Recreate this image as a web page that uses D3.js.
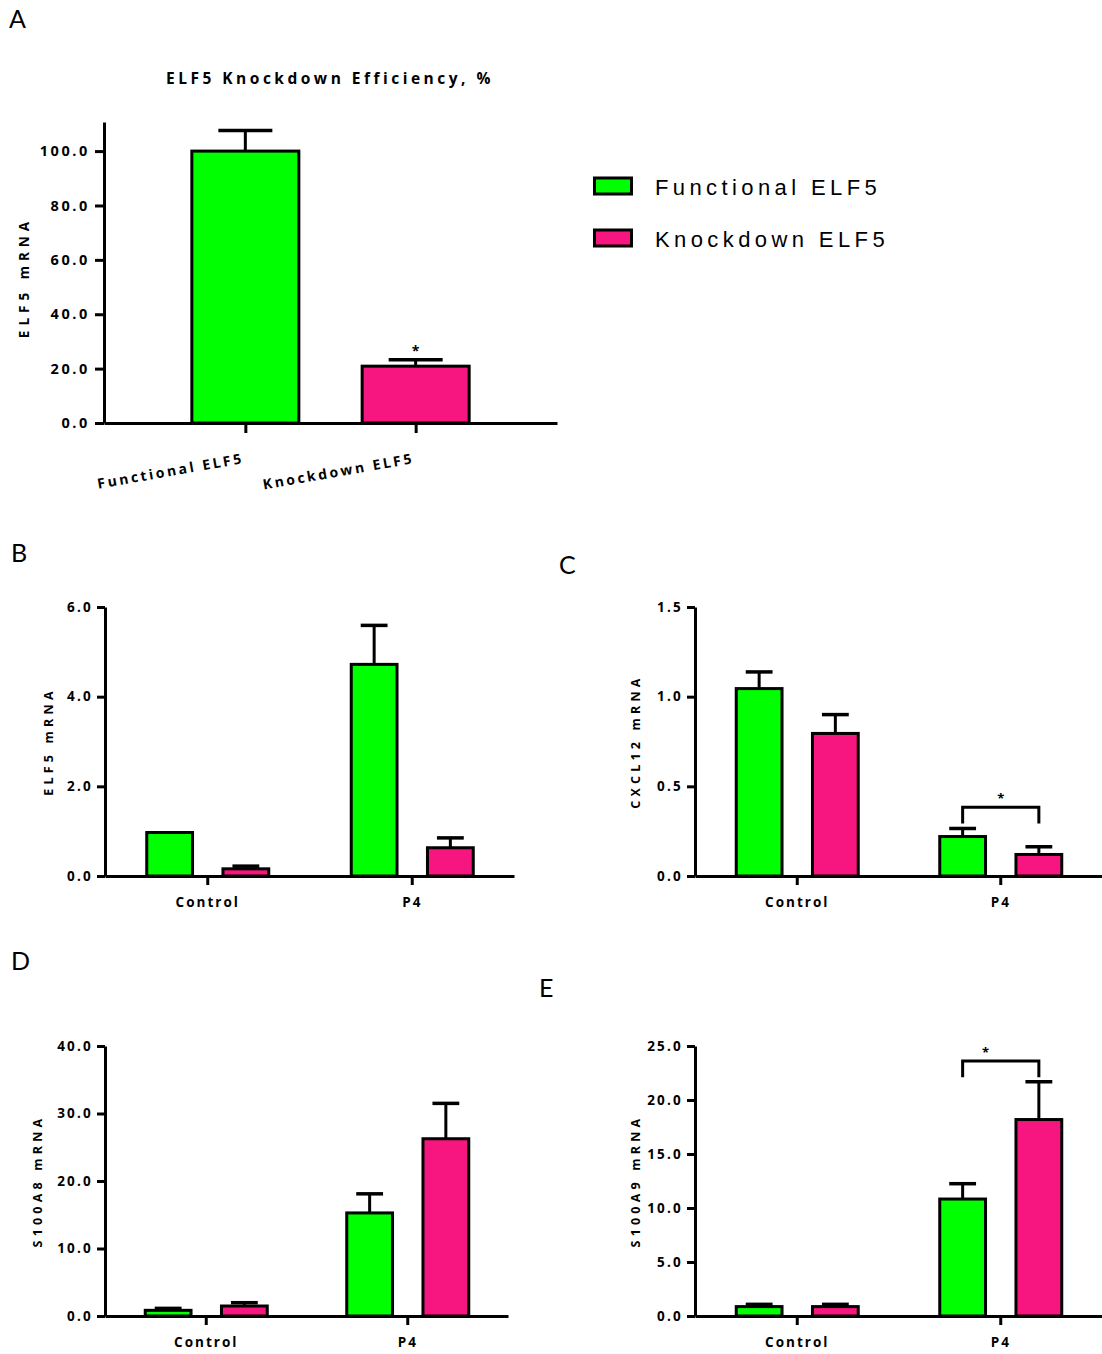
<!DOCTYPE html>
<html>
<head>
<meta charset="utf-8">
<script src="https://cdn.jsdelivr.net/npm/d3@7"></script>
<style>
  body { margin: 0; background: #fff; }
  text { font-family: "Open Sans", sans-serif; fill: #000; }
  .tick text { font-weight: 700; }
</style>
</head>
<body>
<svg id="fig" width="1102" height="1354"></svg>
<script>
// ---- data ----
const seriesNames = ["Functional ELF5", "Knockdown ELF5"];
const groups = ["Control", "P4"];

// A: knockdown efficiency (%)
const effCategories = ["Functional ELF5", "Knockdown ELF5"];
const effMean = [100, 20.9];
const effSem = [7.6, 2.4];
const effTicks = [0, 20, 40, 60, 80, 100];

// B: ELF5 mRNA
const elf5Functional = [0.97, 4.72];
const elf5FunctionalSem = [0, 0.87];
const elf5Knockdown = [0.16, 0.63];
const elf5KnockdownSem = [0.06, 0.22];
const elf5Ticks = [0, 2, 4, 6];

// C: CXCL12 mRNA
const cxcl12Functional = [1.045, 0.22];
const cxcl12FunctionalSem = [0.093, 0.045];
const cxcl12Knockdown = [0.795, 0.12];
const cxcl12KnockdownSem = [0.105, 0.043];
const cxcl12Ticks = [0, 0.5, 1.0, 1.5];

// D: S100A8 mRNA
const s100a8Functional = [0.84, 15.27];
const s100a8FunctionalSem = [0.29, 2.83];
const s100a8Knockdown = [1.48, 26.26];
const s100a8KnockdownSem = [0.49, 5.24];
const s100a8Ticks = [0, 10, 20, 30, 40];

// E: S100A9 mRNA
const s100a9Functional = [0.87, 10.83];
const s100a9FunctionalSem = [0.21, 1.42];
const s100a9Knockdown = [0.87, 18.19];
const s100a9KnockdownSem = [0.21, 3.5];
const s100a9Ticks = [0, 5, 10, 15, 20, 25];

const GREEN = "#00ff00";
const PINK = "#f7157f";
const seriesColor = d3.scaleOrdinal().domain(seriesNames).range([GREEN, PINK]);

const svg = d3.select("#fig");
const fmt = d3.format(".1f");

function panelLetter(letter, x, y) {
  svg.append("text")
    .attr("x", x).attr("y", y)
    .style("font-family", "Lato, sans-serif")
    .style("font-size", "25px")
    .text(letter);
}

function styleAxis(g, fontSize, spacing) {
  g.select(".domain").attr("stroke-width", 3);
  g.selectAll(".tick line").attr("stroke-width", 3);
  g.selectAll(".tick text")
    .style("font-size", fontSize + "px")
    .style("letter-spacing", spacing + "px");
}

function errorBar(g, cx, yBase, yTop, capW) {
  g.append("line")
    .attr("x1", cx).attr("x2", cx)
    .attr("y1", yBase).attr("y2", yTop)
    .attr("stroke", "#000").attr("stroke-width", 3);
  g.append("line")
    .attr("x1", cx - capW / 2).attr("x2", cx + capW / 2)
    .attr("y1", yTop).attr("y2", yTop)
    .attr("stroke", "#000").attr("stroke-width", 3.5);
}

// grouped panel (B-E)
function drawGrouped(p) {
  const g = svg.append("g");
  const y = d3.scaleLinear().domain([0, p.yMax]).range([p.bottom, p.top]);
  const x = d3.scalePoint().domain(groups).range([p.left, p.right]).padding(0.5);
  const xs = d3.scaleBand().domain(seriesNames).range([-62, 63]).paddingInner(0.36);

  const means = [p.functional, p.knockdown];
  const sems = [p.functionalSem, p.knockdownSem];
  const rows = [];
  groups.forEach((grp, gi) => {
    seriesNames.forEach((s, si) => {
      rows.push({ group: grp, series: s, mean: means[si][gi], sem: sems[si][gi] });
    });
  });

  rows.forEach(d => {
    const cx = x(d.group) + xs(d.series) + xs.bandwidth() / 2;
    if (d.sem > 0) errorBar(g, cx, y(d.mean), y(d.mean + d.sem), xs.bandwidth() * 0.55);
  });

  g.selectAll("rect.bar")
    .data(rows)
    .join("rect")
    .attr("class", "bar")
    .attr("x", d => x(d.group) + xs(d.series) + 1.5)
    .attr("width", xs.bandwidth() - 3)
    .attr("y", d => y(d.mean))
    .attr("height", d => y(0) - y(d.mean))
    .attr("fill", d => seriesColor(d.series))
    .attr("stroke", "#000")
    .attr("stroke-width", 3);

  const yAxis = g.append("g")
    .attr("transform", `translate(${p.left},0)`)
    .call(d3.axisLeft(y).tickValues(p.ticks).tickFormat(fmt).tickSize(8).tickSizeOuter(0).tickPadding(4));
  styleAxis(yAxis, 13.5, 2.2);

  const xAxis = g.append("g")
    .attr("transform", `translate(0,${p.bottom})`)
    .call(d3.axisBottom(x).tickSize(9).tickSizeOuter(0).tickPadding(12));
  styleAxis(xAxis, 13.5, 2);

  g.append("text")
    .attr("transform", `translate(${p.labelX},${(p.top + p.bottom) / 2}) rotate(-90)`)
    .attr("text-anchor", "middle")
    .style("font-size", "12.5px")
    .style("font-weight", 700)
    .style("letter-spacing", "4.2px")
    .text(p.yLabel);

  if (p.bracket) {
    const b = p.bracket;
    const x1 = x(b.group) + xs(seriesNames[0]) + xs.bandwidth() / 2;
    const x2 = x(b.group) + xs(seriesNames[1]) + xs.bandwidth() / 2;
    g.append("path")
      .attr("d", `M${x1},${y(b.low)}V${y(b.high)}H${x2}V${y(b.low)}`)
      .attr("fill", "none")
      .attr("stroke", "#000")
      .attr("stroke-width", 3);
    g.append("text")
      .attr("x", x1 + (x2 - x1) * b.starAt)
      .attr("y", y(b.high) - 4)
      .attr("text-anchor", "middle")
      .style("font-size", "13px")
      .style("font-weight", 700)
      .text("*");
  }
}

// ---- Panel A ----
(function drawA() {
  const left = 104, right = 557, top = 122, bottom = 423;
  const g = svg.append("g");
  const y = d3.scaleLinear().domain([0, 110.7]).range([bottom, top]);
  const x = d3.scalePoint().domain(effCategories).range([left, right]).padding(0.83);
  const bw = 110;

  effCategories.forEach((c, i) => {
    errorBar(g, x(c), y(effMean[i]), y(effMean[i] + effSem[i]), 54);
  });

  g.selectAll("rect.bar")
    .data(effCategories)
    .join("rect")
    .attr("class", "bar")
    .attr("x", d => x(d) - bw / 2 + 1.5)
    .attr("width", bw - 3)
    .attr("y", (d, i) => y(effMean[i]))
    .attr("height", (d, i) => y(0) - y(effMean[i]))
    .attr("fill", d => seriesColor(d))
    .attr("stroke", "#000")
    .attr("stroke-width", 3);

  const yAxis = g.append("g")
    .attr("transform", `translate(${left},0)`)
    .call(d3.axisLeft(y).tickValues(effTicks).tickFormat(fmt).tickSize(9).tickSizeOuter(0).tickPadding(5));
  styleAxis(yAxis, 14.5, 2.6);

  const xAxis = g.append("g")
    .attr("transform", `translate(0,${bottom})`)
    .call(d3.axisBottom(x).tickSize(10).tickSizeOuter(0).tickFormat(""));
  styleAxis(xAxis, 13, 2);

  g.selectAll("text.xlab")
    .data(effCategories)
    .join("text")
    .attr("class", "xlab")
    .attr("transform", d => `translate(${x(d) - 1},${bottom + 40}) rotate(-10)`)
    .attr("text-anchor", "end")
    .style("font-size", "14px")
    .style("font-weight", 700)
    .style("letter-spacing", "2.6px")
    .text(d => d);

  // significance star
  g.append("text")
    .attr("x", x(effCategories[1]))
    .attr("y", y(effMean[1] + effSem[1]) - 4)
    .attr("text-anchor", "middle")
    .style("font-size", "14px")
    .style("font-weight", 700)
    .text("*");

  g.append("text")
    .attr("transform", `translate(29,${(top + bottom) / 2 + 5}) rotate(-90)`)
    .attr("text-anchor", "middle")
    .style("font-size", "13.5px")
    .style("font-weight", 700)
    .style("letter-spacing", "5px")
    .text("ELF5 mRNA");

  g.append("text")
    .attr("x", 330).attr("y", 84)
    .attr("text-anchor", "middle")
    .style("font-size", "15.5px")
    .style("font-weight", 700)
    .style("letter-spacing", "3.5px")
    .text("ELF5 Knockdown Efficiency, %");

  // legend
  const leg = svg.append("g").attr("transform", "translate(594,0)");
  const legY = d3.scalePoint().domain(seriesNames).range([186, 238]);
  leg.selectAll("rect")
    .data(seriesNames)
    .join("rect")
    .attr("x", 0.5).attr("y", d => legY(d) - 8)
    .attr("width", 37).attr("height", 16)
    .attr("fill", d => seriesColor(d))
    .attr("stroke", "#000").attr("stroke-width", 3);
  leg.selectAll("text")
    .data(seriesNames)
    .join("text")
    .attr("x", 61).attr("y", d => legY(d) + 9)
    .style("font-family", "'Liberation Sans', Arial, sans-serif")
    .style("font-size", "22px")
    .style("letter-spacing", "4.4px")
    .text(d => d);
})();

panelLetter("A", 9, 28);
panelLetter("B", 11, 562);
panelLetter("C", 559, 574);
panelLetter("D", 11, 970);
panelLetter("E", 539, 997);

drawGrouped({
  left: 105, right: 514, top: 607, bottom: 876, yMax: 6, ticks: elf5Ticks,
  functional: elf5Functional, functionalSem: elf5FunctionalSem,
  knockdown: elf5Knockdown, knockdownSem: elf5KnockdownSem,
  yLabel: "ELF5 mRNA", labelX: 53
});

drawGrouped({
  left: 695, right: 1102, top: 607, bottom: 876, yMax: 1.5, ticks: cxcl12Ticks,
  functional: cxcl12Functional, functionalSem: cxcl12FunctionalSem,
  knockdown: cxcl12Knockdown, knockdownSem: cxcl12KnockdownSem,
  yLabel: "CXCL12 mRNA", labelX: 640,
  bracket: { group: "P4", low: 0.293, high: 0.383, starAt: 0.5 }
});

drawGrouped({
  left: 105, right: 508, top: 1046, bottom: 1316, yMax: 40, ticks: s100a8Ticks,
  functional: s100a8Functional, functionalSem: s100a8FunctionalSem,
  knockdown: s100a8Knockdown, knockdownSem: s100a8KnockdownSem,
  yLabel: "S100A8 mRNA", labelX: 42
});

drawGrouped({
  left: 695, right: 1102, top: 1046, bottom: 1316, yMax: 25, ticks: s100a9Ticks,
  functional: s100a9Functional, functionalSem: s100a9FunctionalSem,
  knockdown: s100a9Knockdown, knockdownSem: s100a9KnockdownSem,
  yLabel: "S100A9 mRNA", labelX: 640,
  bracket: { group: "P4", low: 22.1, high: 23.6, starAt: 0.3 }
});
</script>
</body>
</html>
